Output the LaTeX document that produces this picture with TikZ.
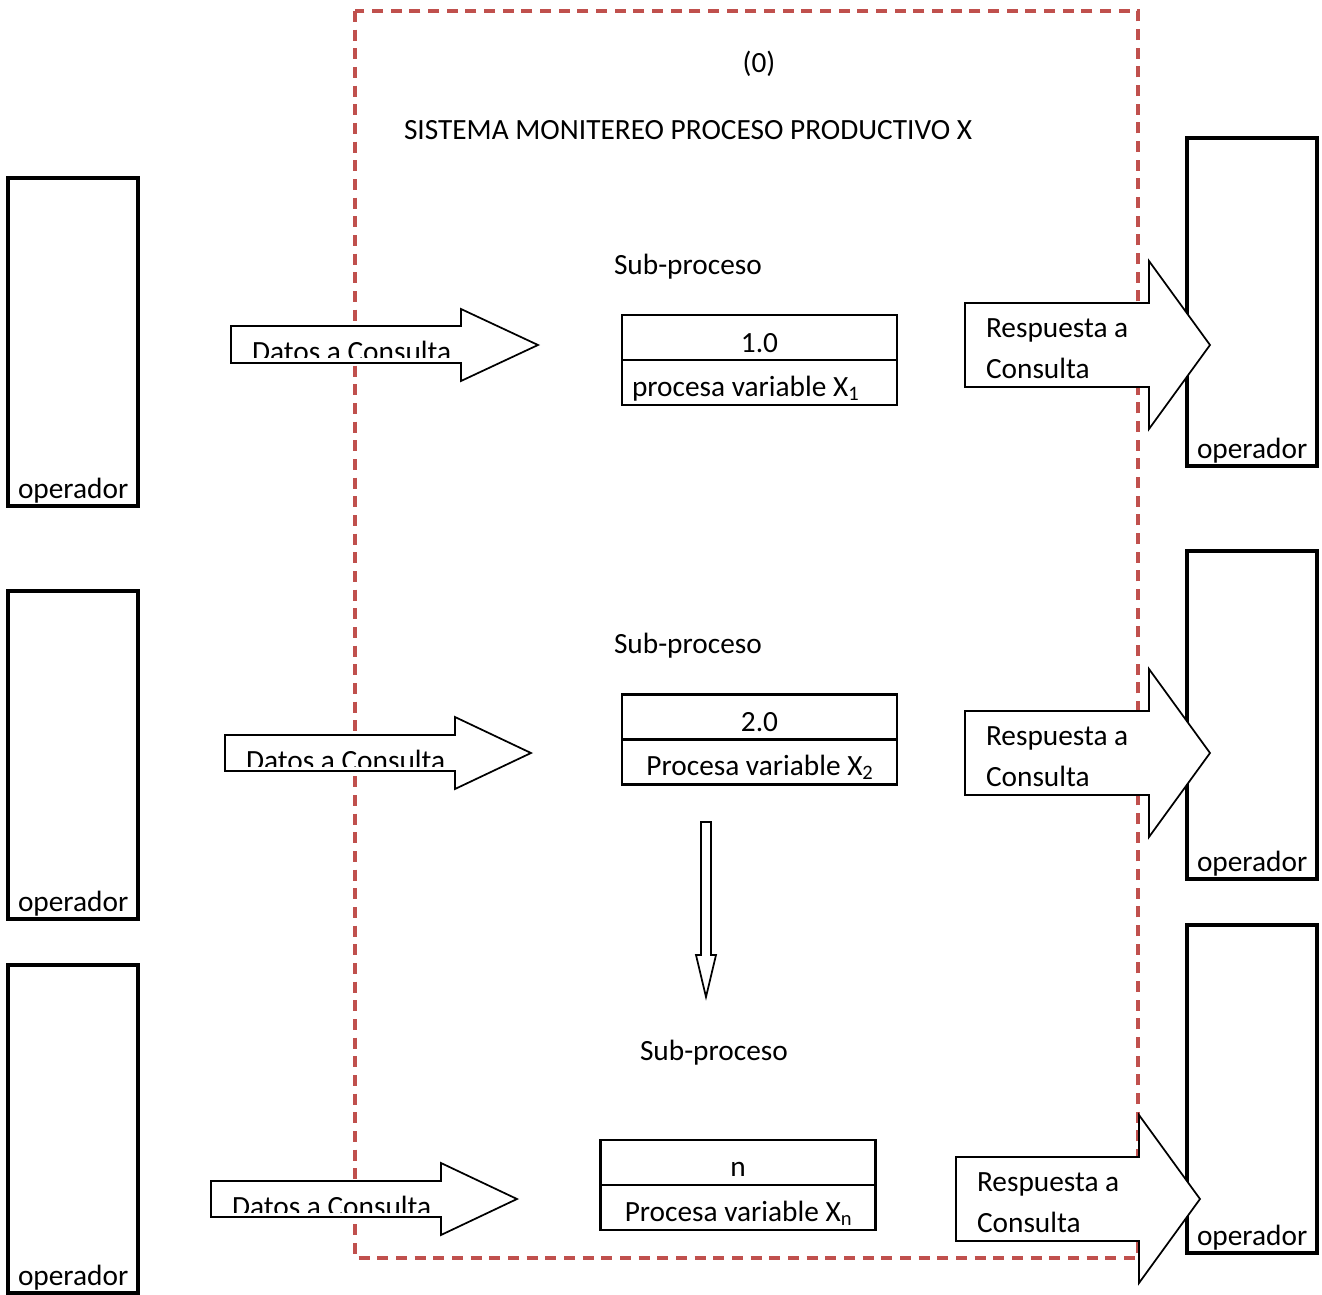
\documentclass[tikz,border=0pt]{standalone}
\usepackage{fontspec}
\setmainfont{Carlito}
\definecolor{sysred}{HTML}{C0504D}
\begin{document}
\begin{tikzpicture}[x=0.75pt,y=-0.75pt,
  every node/.style={font=\fontsize{22}{26}\selectfont, inner sep=0pt, outer sep=0pt},
  actor/.style={draw, line width=2.4pt, minimum width=97.5pt, minimum height=246pt},
  procbox/.style={draw, line width=2pt, minimum width=206.25pt, minimum height=67.5pt},
  divider/.style={line width=2pt},
  blockarrow/.style={draw, fill=white, line width=1.3pt, line join=miter},
  sysbound/.style={draw=sysred, line width=2.6pt, dash pattern=on 8.3pt off 5.7pt},
  lbl/.style={anchor=base west},
  clbl/.style={anchor=base}]
\useasboundingbox (0,0) rectangle (1322,1295);

% system boundary
\draw[sysbound] (355,11) rectangle (1138,1258);
\node[clbl] (sysnum) at (759,73) {(0)};
\node[lbl] (systitle) at (404,140) {SISTEMA MONITEREO PROCESO PRODUCTIVO X};

% external operators, left column
\node[actor] (opL1) at (73,342) {};
\node[actor] (opL2) at (73,755) {};
\node[actor] (opL3) at (73,1129) {};
% external operators, right column
\node[actor] (opR1) at (1252,302) {};
\node[actor] (opR2) at (1252,715) {};
\node[actor] (opR3) at (1252,1089) {};

% sub-process boxes
\node[procbox] (p1) at (759.5,360) {};
\draw[divider] (p1.west) -- (p1.east);
\node[procbox] (p2) at (759.5,739.5) {};
\draw[divider] (p2.west) -- (p2.east);
\node[procbox] (pn) at (738,1185) {};
\draw[divider] (pn.west) -- (pn.east);

% flow from sub-process 2 towards sub-process n
\draw[blockarrow] (701,822) -- (711,822) -- (711,955) -- (716,955) -- (706,997)
  -- (696,955) -- (701,955) -- cycle;

% incoming query arrows
\draw[blockarrow] (231,326) -- (461,326) -- (461,309) -- (538,345) -- (461,381)
  -- (461,363) -- (231,363) -- cycle;
\draw[blockarrow] (225,735) -- (455,735) -- (455,717) -- (531,753) -- (455,789)
  -- (455,771) -- (225,771) -- cycle;
\draw[blockarrow] (211,1181) -- (441,1181) -- (441,1163) -- (517,1199) -- (441,1235)
  -- (441,1217) -- (211,1217) -- cycle;

% outgoing answer arrows
\draw[blockarrow] (965,303) -- (1149,303) -- (1149,261) -- (1210,345) -- (1149,429)
  -- (1149,387) -- (965,387) -- cycle;
\draw[blockarrow] (965,711) -- (1149,711) -- (1149,669) -- (1210,753) -- (1149,837)
  -- (1149,795) -- (965,795) -- cycle;
\draw[blockarrow] (956,1157) -- (1139,1157) -- (1139,1115) -- (1200,1199) -- (1139,1283)
  -- (1139,1241) -- (956,1241) -- cycle;

% query labels, cut off by the arrow body
\begin{scope}
  \clip (231,326) rectangle (461,357);
  \node[lbl] (q1) at (252,361) {Datos a Consulta};
\end{scope}
\begin{scope}
  \clip (225,735) rectangle (455,766);
  \node[lbl] (q2) at (246,770) {Datos a Consulta};
\end{scope}
\begin{scope}
  \clip (211,1181) rectangle (441,1212);
  \node[lbl] (q3) at (232,1216) {Datos a Consulta};
\end{scope}

% answer labels
\node[lbl] (a1a) at (986,337) {Respuesta a};
\node[lbl] (a1b) at (986,378) {Consulta};
\node[lbl] (a2a) at (986,745) {Respuesta a};
\node[lbl] (a2b) at (986,786) {Consulta};
\node[lbl] (a3a) at (977,1191) {Respuesta a};
\node[lbl] (a3b) at (977,1232) {Consulta};

% operator labels
\node[lbl] (opL1t) at (18,498) {operador};
\node[lbl] (opL2t) at (18,911) {operador};
\node[lbl] (opL3t) at (18,1285) {operador};
\node[lbl] (opR1t) at (1197,458) {operador};
\node[lbl] (opR2t) at (1197,871) {operador};
\node[lbl] (opR3t) at (1197,1245) {operador};

% sub-process labels
\node[lbl] (s1) at (614,274) {Sub-proceso};
\node[lbl] (s2) at (614,653) {Sub-proceso};
\node[lbl] (s3) at (640,1060) {Sub-proceso};

\node[clbl] (p1id) at (759.5,352) {1.0};
\node[lbl] (p1txt) at (632,396) {procesa variable X\textsubscript{1}};
\node[clbl] (p2id) at (759.5,731) {2.0};
\node[clbl] (p2txt) at (760,775) {Procesa variable X\textsubscript{2}};
\node[clbl] (pnid) at (738,1176) {n};
\node[clbl] (pntxt) at (738.5,1221) {Procesa variable X\textsubscript{n}};
\end{tikzpicture}
\end{document}
